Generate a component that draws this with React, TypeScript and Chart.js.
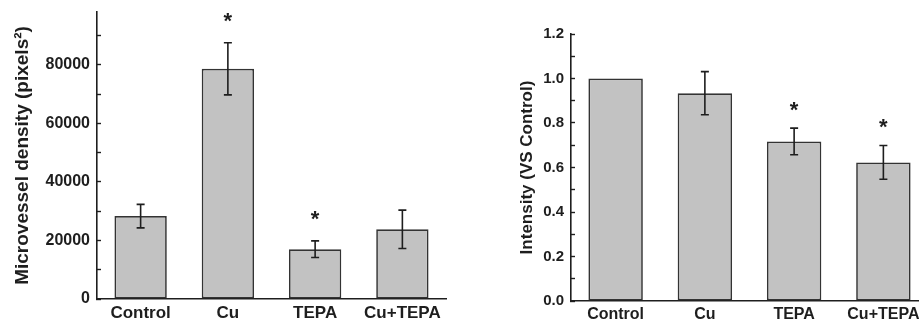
import React, { useEffect, useRef } from "react";
import { Chart, registerables } from "chart.js";

Chart.register(...registerables);

const categories = ["Control", "Cu", "TEPA", "Cu+TEPA"];

// Left panel: microvessel density
const densityValues = [28300, 78600, 17000, 23800];
const densityErrors = [4000, 8900, 2850, 6550];
const densitySignificant = [false, true, true, false];
const densityTicks = [0, 10000, 20000, 30000, 40000, 50000, 60000, 70000, 80000, 90000];

// Right panel: intensity vs control
const intensityValues = [1.0, 0.934, 0.717, 0.623];
const intensityErrors = [0, 0.097, 0.06, 0.076];
const intensitySignificant = [false, false, true, true];
const intensityTicks = [0, 0.1, 0.2, 0.3, 0.4, 0.5, 0.6, 0.7, 0.8, 0.9, 1.0, 1.1, 1.2];

const FONT = "'Liberation Sans', Arial, Helvetica, sans-serif";
const INK = "#1e1e1e";
const BAR_FILL = "#c2c2c2";

const errorBarPlugin = {
  id: "errbars",
  afterDatasetsDraw(chart: any, _args: any, opts: any) {
    const ctx = chart.ctx;
    const meta = chart.getDatasetMeta(0);
    const ys = chart.scales.y;
    const values: number[] = chart.data.datasets[0].data;
    const errors: number[] = opts.errors || [];
    const sig: boolean[] = opts.sig || [];
    ctx.save();
    ctx.strokeStyle = INK;
    ctx.lineWidth = 1.6;
    meta.data.forEach((bar: any, i: number) => {
      const v = values[i];
      const e = errors[i] || 0;
      const x = bar.x;
      const top = ys.getPixelForValue(v + e);
      if (e > 0) {
        const bot = ys.getPixelForValue(v - e);
        const cap = opts.cap || 4;
        ctx.beginPath();
        ctx.moveTo(x, top);
        ctx.lineTo(x, bot);
        ctx.moveTo(x - cap, top);
        ctx.lineTo(x + cap, top);
        ctx.moveTo(x - cap, bot);
        ctx.lineTo(x + cap, bot);
        ctx.stroke();
      }
      if (sig[i]) {
        ctx.fillStyle = INK;
        ctx.font = `bold ${opts.starSize || 22}px ${FONT}`;
        ctx.textAlign = "center";
        ctx.textBaseline = "alphabetic";
        const m = ctx.measureText("*");
        const asc = m.actualBoundingBoxAscent;
        const desc = m.actualBoundingBoxDescent;
        const cy = top - (opts.starGap || 24);
        const baseline = cy + (asc - desc) / 2;
        ctx.fillText("*", x, baseline);
      }
    });
    ctx.restore();
  },
};

type PanelProps = {
  left: number;
  width: number;
  values: number[];
  errors: number[];
  sig: boolean[];
  ticks: number[];
  yMax: number;
  yAxisWidth: number;
  xAxisHeight: number;
  padding: { left: number; right: number; top: number; bottom: number };
  yTitle: string;
  yTitleSize: number;
  yTitlePad: number;
  yTickSize: number;
  xTickSize: number;
  xTickPad: number;
  labelFmt: (v: number) => string;
  barPct: number;
  starGap: number;
};

function Panel(p: PanelProps) {
  const ref = useRef<HTMLCanvasElement | null>(null);
  useEffect(() => {
    if (!ref.current) return;
    const chart = new Chart(ref.current, {
      type: "bar",
      data: {
        labels: categories,
        datasets: [
          {
            data: p.values,
            backgroundColor: BAR_FILL,
            borderColor: "#333333",
            borderWidth: 1.7,
            borderSkipped: false,
            barPercentage: p.barPct,
            categoryPercentage: 1,
          },
        ],
      },
      options: {
        responsive: false,
        animation: false,
        events: [],
        layout: { padding: p.padding },
        plugins: {
          legend: { display: false },
          tooltip: { enabled: false },
          errbars: { errors: p.errors, sig: p.sig, cap: 4, starGap: p.starGap, starSize: 22 },
        } as any,
        scales: {
          x: {
            type: "category",
            offset: true,
            grid: { display: false, drawTicks: false },
            border: { display: true, color: INK, width: 1.6 },
            ticks: {
              color: INK,
              padding: p.xTickPad,
              maxRotation: 0,
              autoSkip: false,
              font: { family: FONT, size: p.xTickSize, weight: "bold" },
            },
            afterFit: (s: any) => {
              s.height = p.xAxisHeight;
              s.paddingLeft = 0;
              s.paddingRight = 0;
            },
          },
          y: {
            type: "linear",
            min: 0,
            max: p.yMax,
            grid: {
              drawOnChartArea: false,
              drawTicks: true,
              tickLength: -4,
              tickColor: INK,
              tickWidth: 1.4,
            },
            border: { display: true, color: INK, width: 1.6 },
            afterBuildTicks: (s: any) => {
              s.ticks = p.ticks.map((v) => ({ value: v }));
            },
            ticks: {
              color: INK,
              padding: 11,
              autoSkip: false,
              font: { family: FONT, size: p.yTickSize, weight: "bold" },
              callback: (value: any, index: number) =>
                index % 2 === 0 ? p.labelFmt(Number(value)) : "",
            },
            title: {
              display: true,
              text: p.yTitle,
              color: INK,
              font: { family: FONT, size: p.yTitleSize, weight: "bold" },
              padding: { top: p.yTitlePad, bottom: 0 },
            },
            afterFit: (s: any) => {
              s.width = p.yAxisWidth;
              s.paddingTop = 0;
              s.paddingBottom = 0;
            },
          },
        },
      } as any,
      plugins: [errorBarPlugin],
    });
    return () => chart.destroy();
  }, []);
  return (
    <canvas
      ref={ref}
      width={p.width}
      height={324}
      style={{ position: "absolute", left: p.left, top: 0, width: p.width, height: 324 }}
    />
  );
}

export default function App() {
  return (
    <div
      style={{
        position: "absolute",
        left: 0,
        top: 0,
        width: 919,
        height: 324,
        overflow: "hidden",
        background: "#ffffff",
      }}
    >
      <Panel
        left={0}
        width={460}
        values={densityValues}
        errors={densityErrors}
        sig={densitySignificant}
        ticks={densityTicks}
        yMax={98000}
        yAxisWidth={97}
        xAxisHeight={25}
        padding={{ left: 0, right: 14, top: 12, bottom: 0 }}
        yTitle="Microvessel density (pixels²)"
        yTitleSize={19}
        yTitlePad={11}
        yTickSize={16}
        xTickSize={17}
        xTickPad={4}
        labelFmt={(v) => String(Math.round(v))}
        barPct={0.6}
        starGap={25}
      />
      <Panel
        left={460}
        width={480}
        values={intensityValues}
        errors={intensityErrors}
        sig={intensitySignificant}
        ticks={intensityTicks}
        yMax={1.2}
        yAxisWidth={111}
        xAxisHeight={23}
        padding={{ left: 0, right: 12, top: 34, bottom: 0 }}
        yTitle="Intensity (VS Control)"
        yTitleSize={17}
        yTitlePad={57}
        yTickSize={15}
        xTickSize={16}
        xTickPad={4}
        labelFmt={(v) => v.toFixed(1)}
        barPct={0.61}
        starGap={22}
      />
    </div>
  );
}
